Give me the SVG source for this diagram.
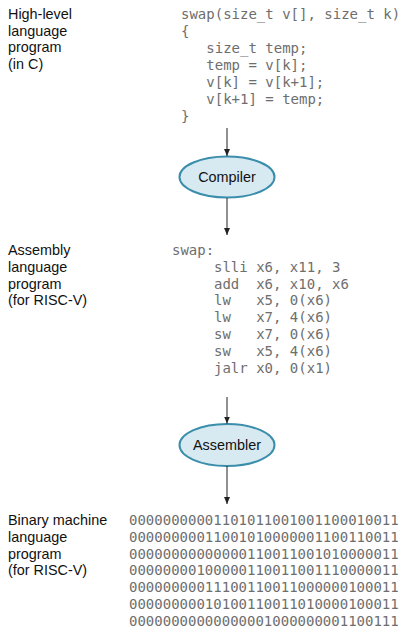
<svg xmlns="http://www.w3.org/2000/svg" width="410" height="638" viewBox="0 0 410 638">
<defs>
<marker id="ah" markerWidth="8" markerHeight="8" refX="7" refY="4" orient="auto" markerUnits="userSpaceOnUse">
<path d="M0,1 L7,4 L0,7 Z" fill="#222"/>
</marker>
</defs>
<style>
.lbl{font-family:"Liberation Sans",Arial,sans-serif;font-size:14.4px;fill:#111}
.code{font-family:"DejaVu Sans Mono","Liberation Mono",monospace;font-size:14px;fill:#6e6e6e;white-space:pre}
.node ellipse{fill:#d7e9f1;stroke:#3a8eab;stroke-width:2}
.node text{font-family:"Liberation Sans",Arial,sans-serif;font-size:14.4px;fill:#111;text-anchor:middle}
.conn line{stroke:#222;stroke-width:1;marker-end:url(#ah)}
</style>
<rect width="410" height="638" fill="#fff"/>
<g id="label-hll">
<text class="lbl" x="8" y="19">High-level</text>
<text class="lbl" x="8" y="35.5">language</text>
<text class="lbl" x="8" y="52">program</text>
<text class="lbl" x="8" y="68.5">(in C)</text>
</g>
<g id="c-program">
<text class="code" x="181" y="19" xml:space="preserve">swap(size_t v[], size_t k)</text>
<text class="code" x="181" y="36" xml:space="preserve">{</text>
<text class="code" x="181" y="53" xml:space="preserve">   size_t temp;</text>
<text class="code" x="181" y="70" xml:space="preserve">   temp = v[k];</text>
<text class="code" x="181" y="87" xml:space="preserve">   v[k] = v[k+1];</text>
<text class="code" x="181" y="104" xml:space="preserve">   v[k+1] = temp;</text>
<text class="code" x="181" y="121" xml:space="preserve">}</text>
</g>
<g id="compiler" class="node">
<ellipse cx="227" cy="177" rx="47.5" ry="20.5"/>
<text x="227" y="182">Compiler</text>
</g>
<g id="label-asm">
<text class="lbl" x="8" y="255">Assembly</text>
<text class="lbl" x="8" y="271.8">language</text>
<text class="lbl" x="8" y="288.6">program</text>
<text class="lbl" x="8" y="305.4">(for RISC-V)</text>
</g>
<g id="asm-program">
<text class="code" x="172" y="255" xml:space="preserve">swap:</text>
<text class="code" x="214" y="271.8" xml:space="preserve">slli x6, x11, 3</text>
<text class="code" x="214" y="288.6" xml:space="preserve">add  x6, x10, x6</text>
<text class="code" x="214" y="305.4" xml:space="preserve">lw   x5, 0(x6)</text>
<text class="code" x="214" y="322.2" xml:space="preserve">lw   x7, 4(x6)</text>
<text class="code" x="214" y="339" xml:space="preserve">sw   x7, 0(x6)</text>
<text class="code" x="214" y="355.8" xml:space="preserve">sw   x5, 4(x6)</text>
<text class="code" x="214" y="372.6" xml:space="preserve">jalr x0, 0(x1)</text>
</g>
<g id="assembler" class="node">
<ellipse cx="227" cy="445" rx="47.5" ry="21"/>
<text x="227" y="450">Assembler</text>
</g>
<g id="label-bin">
<text class="lbl" x="8" y="525">Binary machine</text>
<text class="lbl" x="8" y="541.8">language</text>
<text class="lbl" x="8" y="558.6">program</text>
<text class="lbl" x="8" y="575.4">(for RISC-V)</text>
</g>
<g id="binary-program">
<text class="code" x="129" y="525">00000000001101011001001100010011</text>
<text class="code" x="129" y="541.8">00000000011001010000001100110011</text>
<text class="code" x="129" y="558.6">00000000000000110011001010000011</text>
<text class="code" x="129" y="575.4">00000000100000110011001110000011</text>
<text class="code" x="129" y="592.2">00000000011100110011000000100011</text>
<text class="code" x="129" y="609">00000000010100110011010000100011</text>
<text class="code" x="129" y="625.8">00000000000000001000000001100111</text>
</g>
<g id="connectors" class="conn">
<line x1="227" y1="128" x2="227" y2="156"/>
<line x1="227" y1="198" x2="227" y2="235"/>
<line x1="227" y1="397" x2="227" y2="423.5"/>
<line x1="227" y1="466" x2="227" y2="504"/>
</g>
</svg>
